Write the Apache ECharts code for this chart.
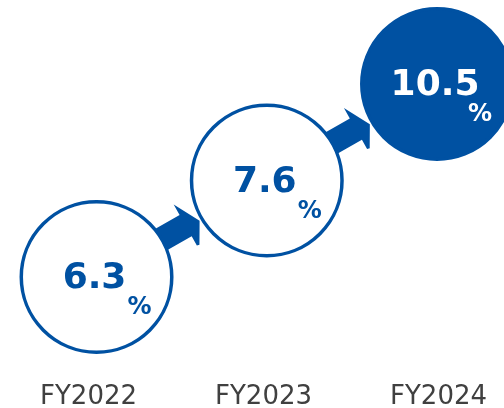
<!DOCTYPE html>
<html><head><meta charset="utf-8">
<script src="https://cdn.jsdelivr.net/npm/echarts@6/dist/echarts.min.js"></script>
<style>html,body{margin:0;padding:0;background:#fff}#c{width:504px;height:408px}</style>
</head><body><div id="c"></div>
<script>
// ---- data ----
const categories = ['FY2022', 'FY2023', 'FY2024'];
const values = [6.3, 7.6, 10.5];
const unit = '%';
const highlightIndex = 2;

// ---- styles ----
const BLUE = '#0051A2';
const GREY = '#404040';
const FONT = "'DejaVu Sans', Verdana, sans-serif";
// arrow outline in local (along, across) pixel units, relative to midpoint between circles
const arrowShape = [[-45,-13],[5,-13],[5,-25],[19.5,2],[7.6,22.7],[5,22],[5,11.5],[-45,11.5]];

const chart = echarts.init(document.getElementById('c'), null, {renderer: 'canvas'});

const pointData = categories.map((c, i) => ({
  value: [c, c, values[i]],
  itemStyle: {color: i === highlightIndex ? BLUE : '#ffffff', borderColor: BLUE, borderWidth: 3.5, opacity: 1},
  label: {color: i === highlightIndex ? '#ffffff' : BLUE}
}));
const arrowData = categories.slice(0, -1).map((c, i) => [c, c, categories[i + 1], categories[i + 1]]);

const option = {
  animation: false,
  grid: [
    {left: 11.4, width: 510.75, top: 35.75, height: 289.5, outerBoundsMode: 'none', containLabel: false},
    {left: 1, width: 525, top: 0, height: 373, outerBoundsMode: 'none', containLabel: false}
  ],
  xAxis: [
    {type: 'category', data: categories, gridIndex: 0, show: false},
    {type: 'category', data: categories, gridIndex: 1,
     axisLine: {show: false}, axisTick: {show: false}, splitLine: {show: false},
     axisLabel: {color: GREY, fontSize: 26, fontFamily: FONT, margin: 11}}
  ],
  yAxis: [
    {type: 'category', data: categories, gridIndex: 0, show: false},
    {type: 'value', gridIndex: 1, show: false, min: 0, max: 1}
  ],
  series: [
    {
      type: 'custom', coordinateSystem: 'cartesian2d', xAxisIndex: 0, yAxisIndex: 0,
      data: arrowData, encode: {x: [0, 2], y: [1, 3]}, z: 1, silent: true,
      renderItem: (params, api) => {
        const p1 = api.coord([api.value(0), api.value(1)]);
        const p2 = api.coord([api.value(2), api.value(3)]);
        const dx = p2[0] - p1[0], dy = p2[1] - p1[1];
        const len = Math.sqrt(dx * dx + dy * dy);
        const ux = dx / len, uy = dy / len;
        const vx = -uy, vy = ux;
        const mx = (p1[0] + p2[0]) / 2, my = (p1[1] + p2[1]) / 2;
        const pts = arrowShape.map(([a, p]) => [mx + a * ux + p * vx, my + a * uy + p * vy]);
        return {type: 'polygon', shape: {points: pts}, style: {fill: BLUE}};
      }
    },
    {
      type: 'scatter', xAxisIndex: 0, yAxisIndex: 0, data: pointData, z: 2,
      symbol: 'circle', symbolSize: 150.5, clip: false, silent: true,
      emphasis: {disabled: true},
      label: {show: true, position: 'inside', offset: [-2, 2], fontSize: 36, fontWeight: 'bold', fontFamily: FONT,
              formatter: p => p.value[2].toFixed(1)}
    },
    {
      type: 'scatter', xAxisIndex: 0, yAxisIndex: 0, z: 3,
      data: pointData.map(d => ({value: d.value, label: d.label})),
      symbol: 'circle', symbolSize: 1, clip: false, silent: true,
      itemStyle: {color: 'rgba(0,0,0,0)', opacity: 1},
      emphasis: {disabled: true},
      label: {show: true, position: 'inside', offset: [43, 31], fontSize: 24, fontWeight: 'bold', fontFamily: FONT,
              formatter: () => unit}
    }
  ]
};
chart.setOption(option);
</script>
</body></html>
